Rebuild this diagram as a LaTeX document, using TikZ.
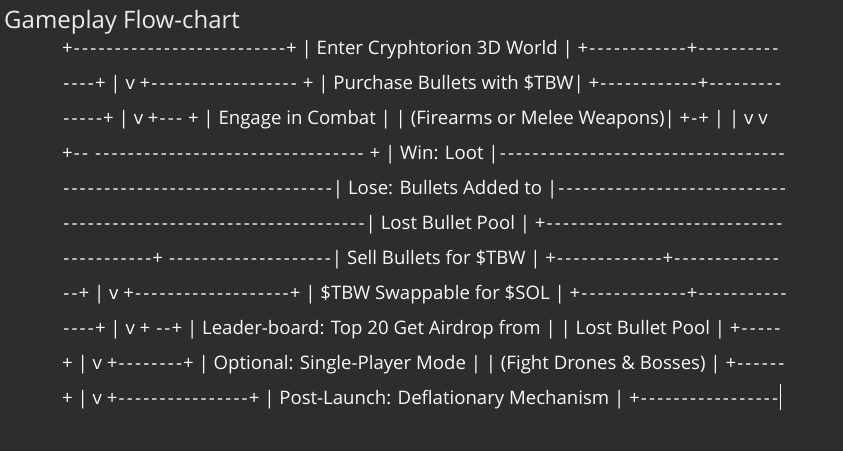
\documentclass[tikz,border=0pt]{standalone}
\usepackage{xcolor}
\usepackage{fontspec}
\setmainfont{Open Sans}
\definecolor{backdrop}{RGB}{45,45,45}
\definecolor{chalk}{RGB}{248,248,248}
\definecolor{heading}{RGB}{235,235,235}
\newcommand{\dashrun}[1]{\foreach \d in {1,...,#1}{\makebox[8.2pt]{-}}}
\tikzstyle{flowrow}=[anchor=base west, inner sep=0pt, text=chalk, font=\fontsize{18.6}{19}\selectfont]
\tikzstyle{title}=[anchor=base west, inner sep=0pt, text=heading, font=\fontsize{24}{25}\selectfont]

\begin{document}
\begin{tikzpicture}[x=1pt,y=-1pt]
  \fill[backdrop] (0,0) rectangle (843,451);
  \draw (4,28.5) node[title] (T) {Gameplay Flow-chart};

  \draw (62,54.5) node[flowrow] (L1) {+\dashrun{26}+ | Enter Cryphtorion 3D World | +\dashrun{12}+\dashrun{10}};
  \draw (62,89.5) node[flowrow] (L2) {\dashrun{4}+ | v +\dashrun{18} + | Purchase Bullets with \$TBW| +\dashrun{12}+\dashrun{9}};
  \draw (62,124.5) node[flowrow] (L3) {\dashrun{5}+ | v +\dashrun{3} + | Engage in Combat | | (Firearms or Melee Weapons)| +\dashrun{1}+ | | v v};
  \draw (62,159.5) node[flowrow] (L4) {+\dashrun{2} \dashrun{33} + | Win: Loot |\dashrun{35}};
  \draw (62,194.5) node[flowrow] (L5) {\dashrun{33}| Lose: Bullets Added to |\dashrun{28}};
  \draw (62,229.5) node[flowrow] (L6) {\dashrun{37}| Lost Bullet Pool | +\dashrun{29}};
  \draw (62,264.5) node[flowrow] (L7) {\dashrun{11}+ \dashrun{20}| Sell Bullets for \$TBW | +\dashrun{13}+\dashrun{13}};
  \draw (62,299.5) node[flowrow] (L8) {\dashrun{2}+ | v +\dashrun{19}+ | \$TBW Swappable for \$SOL | +\dashrun{13}+\dashrun{11}};
  \draw (62,334.5) node[flowrow] (L9) {\dashrun{4}+ | v + \dashrun{2}+ | Leader-board: Top 20 Get Airdrop from | | Lost Bullet Pool | +\dashrun{5}};
  \draw (62,369.5) node[flowrow] (L10) {+ | v +\dashrun{8}+ | Optional: Single-Player Mode | | (Fight Drones \& Bosses) | +\dashrun{6}};
  \draw (62,404.5) node[flowrow] (L11) {+ | v +\dashrun{16}+ | Post-Launch: Deflationary Mechanism | +\dashrun{17}};

  %% caret
  \draw[chalk, line width=1pt] (L11.base east) ++(1,5) -- ++(0,-26);
\end{tikzpicture}
\end{document}
